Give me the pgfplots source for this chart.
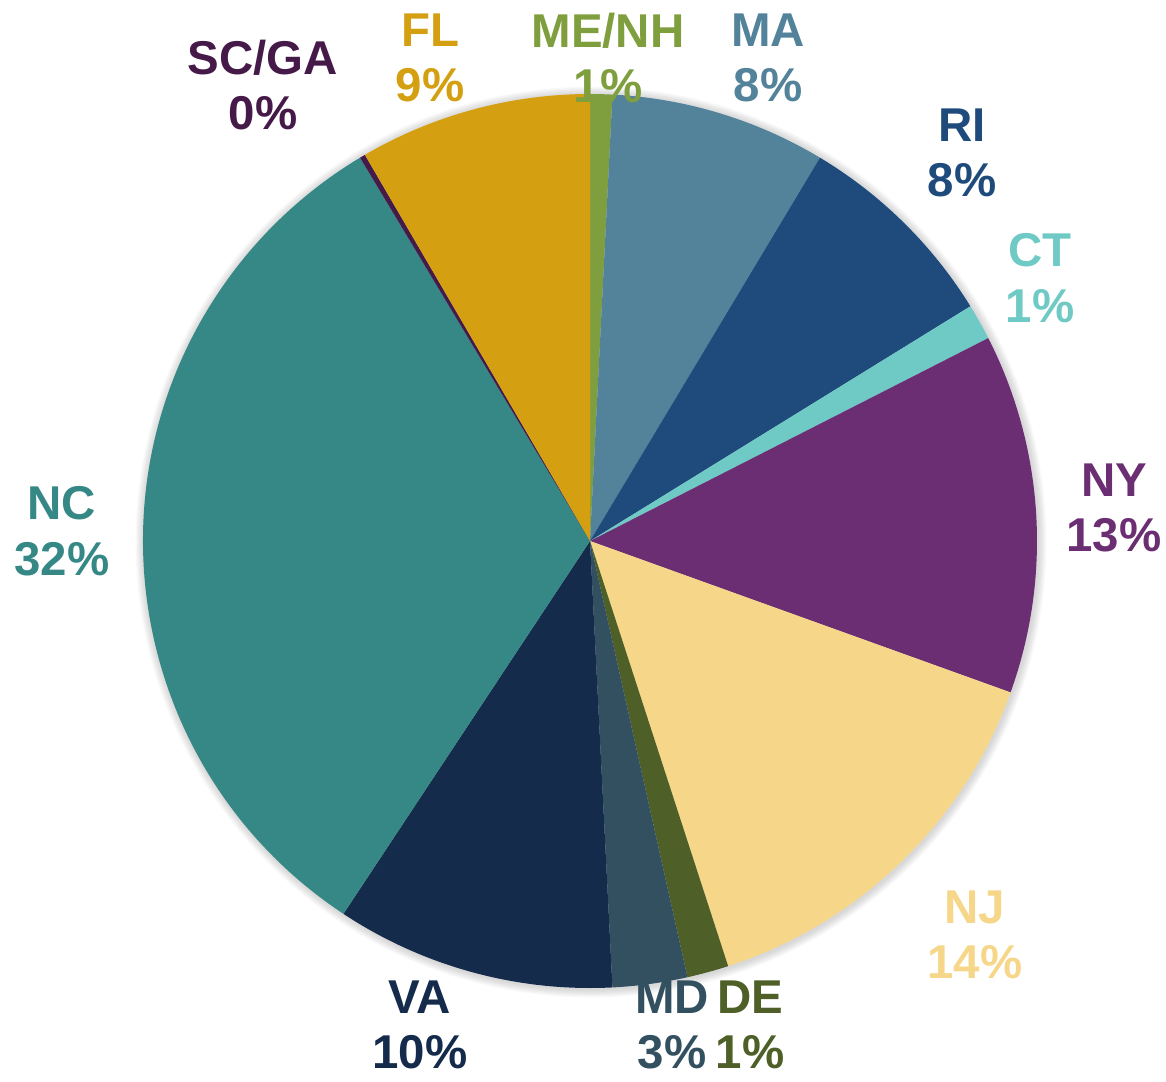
\documentclass[border=0pt]{standalone}
\usepackage{pgfplots}
\pgfplotsset{compat=1.18}
\usepackage{pgfplotstable}
\usepackage{fontspec}
\setmainfont{Liberation Sans}
\definecolor{cMENH}{HTML}{7F9F3E}
\definecolor{cMA}{HTML}{52839A}
\definecolor{cRI}{HTML}{1F4A7C}
\definecolor{cCT}{HTML}{6FCAC6}
\definecolor{cNY}{HTML}{6B2E72}
\definecolor{cNJ}{HTML}{F6D78A}
\definecolor{cDE}{HTML}{4E5F27}
\definecolor{cMD}{HTML}{32505F}
\definecolor{cVA}{HTML}{152B4B}
\definecolor{cNC}{HTML}{358886}
\definecolor{cSCGA}{HTML}{451A48}
\definecolor{cFL}{HTML}{D49F11}
\pgfplotstableread[col sep=comma]{
name,value,col
ME/NH,0.8,cMENH
MA,7.8,cMA
RI,7.6,cRI
CT,1.3,cCT
NY,13.0,cNY
NJ,14.5,cNJ
DE,1.5,cDE
MD,2.7,cMD
VA,10.1,cVA
NC,32.1,cNC
SC/GA,0.2,cSCGA
FL,8.4,cFL
}\piedata
\begin{document}
\begin{tikzpicture}
\def\cumsum{0}
\pgfplotsforeachungrouped \i in {0,...,11}{%
  \pgfplotstablegetelem{\i}{value}\of\piedata
  \let\myval\pgfplotsretval
  \pgfmathsetmacro\a{90-3.6*\cumsum}%
  \pgfmathsetmacro\cumsum{\cumsum+\myval}%
  \pgfmathsetmacro\b{90-3.6*\cumsum}%
  \expandafter\xdef\csname sa\i\endcsname{\a}%
  \expandafter\xdef\csname ea\i\endcsname{\b}%
  \pgfplotstablegetelem{\i}{col}\of\piedata
  \expandafter\xdef\csname cl\i\endcsname{\pgfplotsretval}%
}
\begin{axis}[
  at={(0,0)}, anchor=south west,
  width=11.66cm, height=10.81cm, scale only axis,
  xmin=0, xmax=1166, ymin=0, ymax=1081,
  hide axis, clip=false,
]
% soft shadow
\pgfplotsinvokeforeach{1,...,7}{
  \fill[black, opacity=0.025] (axis cs:591,539) circle[radius={4.47cm+#1*0.012cm}];
}
\pgfplotsinvokeforeach{0,...,11}{
  \fill[\csname cl#1\endcsname] (axis cs:590,540) -- ++(\csname sa#1\endcsname:4.47cm)
    arc[start angle=\csname sa#1\endcsname, end angle=\csname ea#1\endcsname, radius=4.47cm] -- cycle;
}
\tikzset{lab/.style={font=\fontsize{13.5}{15.8}\selectfont\bfseries, align=center, inner sep=0pt}}
\node[lab, text=cSCGA] at (axis cs:263,1081-85) {SC/GA\\0\%};
\node[lab, text=cFL] at (axis cs:430,1081-58) {FL\\9\%};
\node[lab, text=cMENH] at (axis cs:608,1081-58) {ME/NH\\1\%};
\node[lab, text=cMA] at (axis cs:768,1081-58) {MA\\8\%};
\node[lab, text=cRI] at (axis cs:962,1081-153) {RI\\8\%};
\node[lab, text=cCT] at (axis cs:1040,1081-278) {CT\\1\%};
\node[lab, text=cNY] at (axis cs:1114,1081-508) {NY\\13\%};
\node[lab, text=cNJ] at (axis cs:975,1081-935) {NJ\\14\%};
\node[lab, text=cDE] at (axis cs:750,1081-1025) {DE\\1\%};
\node[lab, text=cMD] at (axis cs:672,1081-1025) {MD\\3\%};
\node[lab, text=cVA] at (axis cs:420,1081-1025) {VA\\10\%};
\node[lab, text=cNC] at (axis cs:62,1081-531) {NC\\32\%};
\end{axis}
\pgfresetboundingbox
\useasboundingbox (0,0) rectangle (11.66cm,10.81cm);
\end{tikzpicture}
\end{document}
